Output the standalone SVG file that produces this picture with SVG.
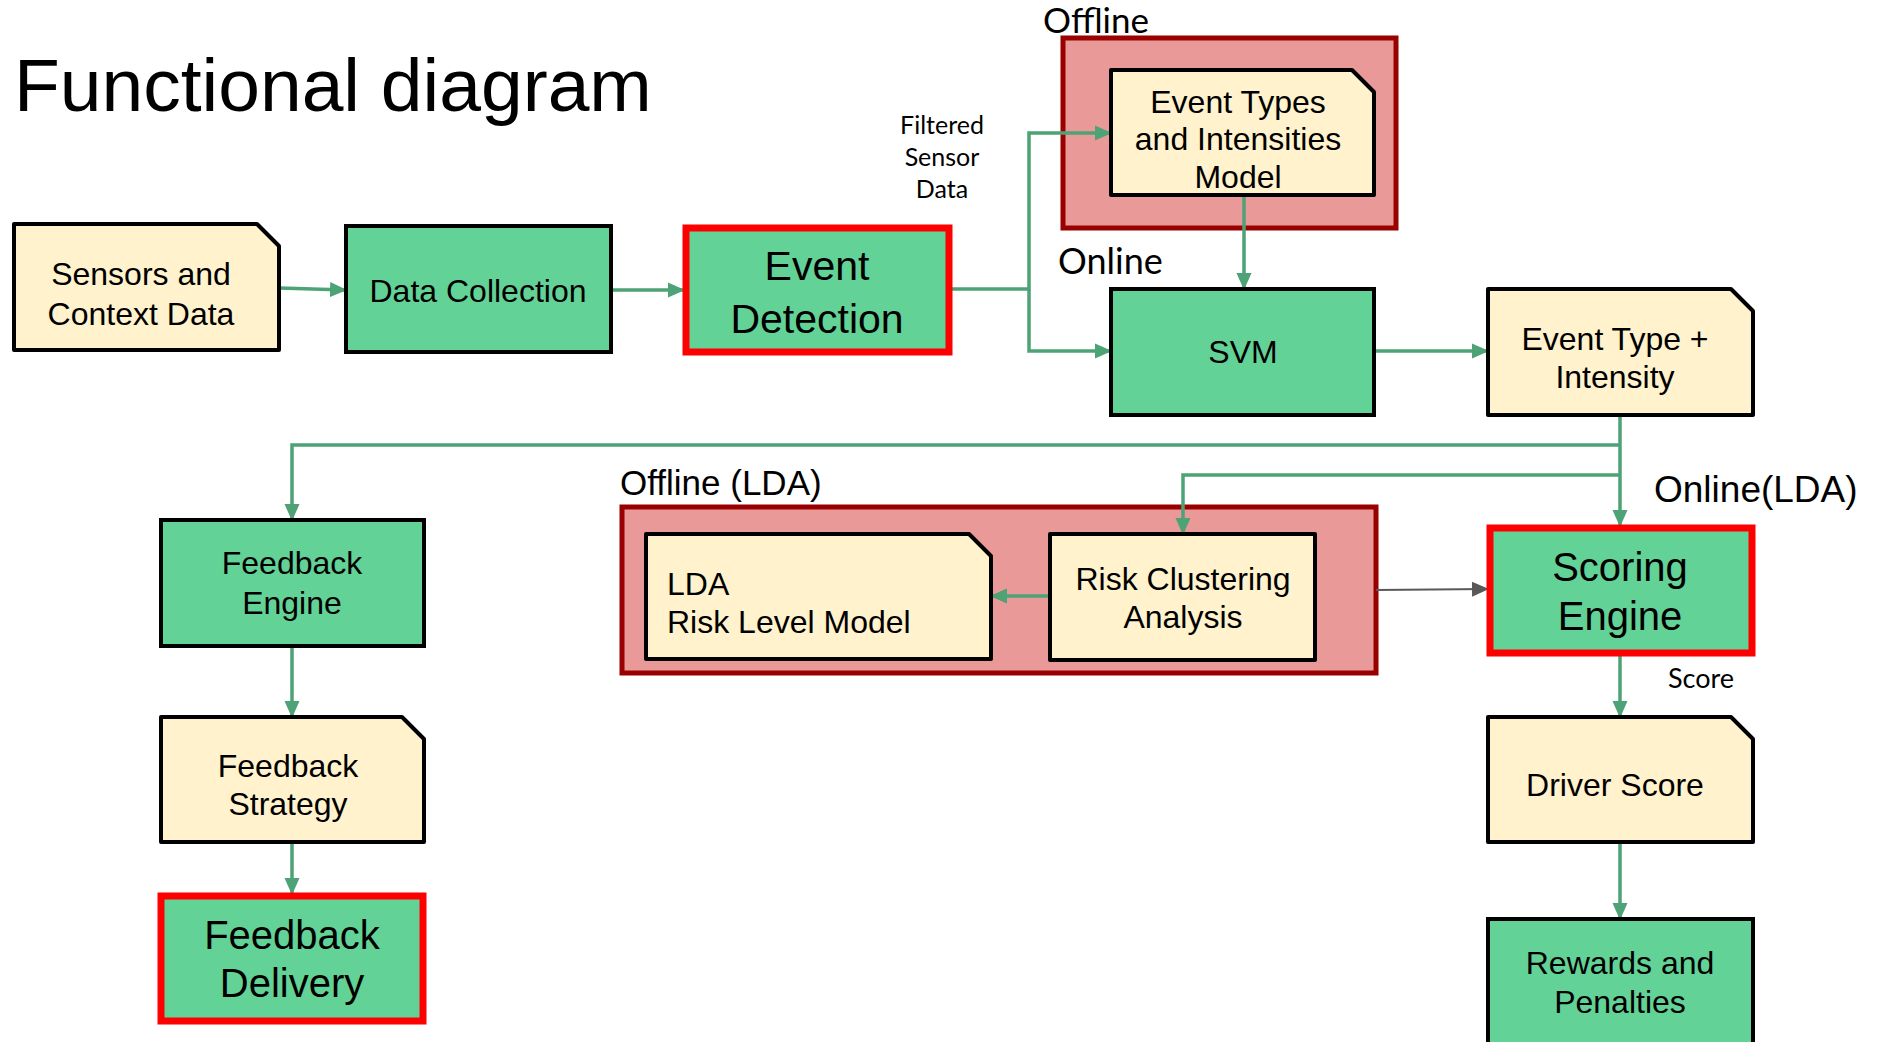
<svg xmlns="http://www.w3.org/2000/svg" width="1879" height="1042" viewBox="0 0 1879 1042">
  <style>
    .t { font-family: "Liberation Sans", Arial, sans-serif; fill: #000; text-anchor: middle; }
    .lbl { font-family: Lato, "Liberation Sans", sans-serif; fill: #000; }
    .proc { fill: #63D297; stroke: #000; stroke-width: 4; }
    .key { fill: #63D297; stroke: #FF0000; stroke-width: 7; }
    .doc { fill: #FFF2CC; stroke: #000; stroke-width: 4; stroke-linejoin: round; }
    .zone { fill: #EA9999; stroke: #990000; stroke-width: 5; }
    .flow { fill: none; stroke: #4DA276; stroke-width: 3.5; }
    .grey { fill: none; stroke: #595959; stroke-width: 2; }
  </style>
  <defs>
    <marker id="ah" markerUnits="userSpaceOnUse" markerWidth="17" markerHeight="17" viewBox="0 0 17 17" refX="16" refY="8.5" orient="auto">
      <path d="M0,1 L17,8.5 L0,16 Z" fill="#4DA276"/>
    </marker>
    <marker id="ahg" markerUnits="userSpaceOnUse" markerWidth="17" markerHeight="17" viewBox="0 0 17 17" refX="16" refY="8.5" orient="auto">
      <path d="M0,1 L17,8.5 L0,16 Z" fill="#595959"/>
    </marker>
  </defs>

  <rect width="1879" height="1042" fill="#fff"/>

  <text x="14" y="111" font-family="Liberation Sans, Arial, sans-serif" font-size="75">Functional diagram</text>

  <!-- containers for the offline stages -->
  <g id="offline-zone">
    <rect class="zone" x="1063" y="38" width="333" height="190"/>
    <text class="lbl" x="1043" y="33" font-size="35">Offline</text>
  </g>
  <g id="offline-lda-zone">
    <rect class="zone" x="622" y="507" width="754" height="166"/>
    <text x="620" y="495" font-family="Liberation Sans, Arial, sans-serif" font-size="35">Offline (LDA)</text>
  </g>

  <text class="lbl" x="1058" y="274" font-size="36">Online</text>
  <text x="1654" y="502" font-family="Liberation Sans, Arial, sans-serif" font-size="37">Online(LDA)</text>

  <!-- connectors -->
  <g id="connectors">
    <path class="flow" d="M279,288 L346,290" marker-end="url(#ah)"/>
    <path class="flow" d="M611,290 L684,290" marker-end="url(#ah)"/>
    <path class="flow" d="M950,289 L1029,289 L1029,133 L1111,133" marker-end="url(#ah)"/>
    <path class="flow" d="M1029,289 L1029,351 L1111,351" marker-end="url(#ah)"/>
    <path class="flow" d="M1244,195 L1244,289" marker-end="url(#ah)"/>
    <path class="flow" d="M1374,351 L1488,351" marker-end="url(#ah)"/>
    <path class="flow" d="M1620,415 L1620,526" marker-end="url(#ah)"/>
    <path class="flow" d="M1620,445 L292,445 L292,520" marker-end="url(#ah)"/>
    <path class="flow" d="M1620,475 L1183,475 L1183,534" marker-end="url(#ah)"/>
    <path class="flow" d="M1050,596 L991,596" marker-end="url(#ah)"/>
    <path class="grey" d="M1376,590 L1488,589" marker-end="url(#ahg)"/>
    <path class="flow" d="M292,646 L292,717" marker-end="url(#ah)"/>
    <path class="flow" d="M292,842 L292,894" marker-end="url(#ah)"/>
    <path class="flow" d="M1620,654 L1620,717" marker-end="url(#ah)"/>
    <path class="flow" d="M1620,842 L1620,919" marker-end="url(#ah)"/>
    <text class="lbl" x="942" y="134" font-size="25" text-anchor="middle">Filtered</text>
    <text class="lbl" x="942" y="166" font-size="25" text-anchor="middle">Sensor</text>
    <text class="lbl" x="942" y="198" font-size="25" text-anchor="middle">Data</text>
    <text class="lbl" x="1701" y="688" font-size="27" text-anchor="middle">Score</text>
  </g>

  <!-- nodes -->
  <g id="sensors">
    <path class="doc" d="M14,224 H257 L279,246 V350 H14 Z"/>
    <text class="t" x="141" y="285" font-size="32">Sensors and</text>
    <text class="t" x="141" y="325" font-size="32">Context Data</text>
  </g>
  <g id="data-collection">
    <rect class="proc" x="346" y="226" width="265" height="126"/>
    <text class="t" x="478" y="302" font-size="32">Data Collection</text>
  </g>
  <g id="event-detection">
    <rect class="key" x="686" y="228" width="263" height="124"/>
    <text class="t" x="817" y="280" font-size="41">Event</text>
    <text class="t" x="817" y="333" font-size="41">Detection</text>
  </g>
  <g id="event-model">
    <path class="doc" d="M1111,70 H1352 L1374,92 V195 H1111 Z"/>
    <text class="t" x="1238" y="113" font-size="32">Event Types</text>
    <text class="t" x="1238" y="150" font-size="32">and Intensities</text>
    <text class="t" x="1238" y="188" font-size="32">Model</text>
  </g>
  <g id="svm">
    <rect class="proc" x="1111" y="289" width="263" height="126"/>
    <text class="t" x="1243" y="363" font-size="32">SVM</text>
  </g>
  <g id="event-type-intensity">
    <path class="doc" d="M1488,289 H1731 L1753,311 V415 H1488 Z"/>
    <text class="t" x="1615" y="350" font-size="32">Event Type +</text>
    <text class="t" x="1615" y="388" font-size="32">Intensity</text>
  </g>
  <g id="scoring-engine">
    <rect class="key" x="1490" y="528" width="262" height="125"/>
    <text class="t" x="1620" y="581" font-size="40">Scoring</text>
    <text class="t" x="1620" y="630" font-size="40">Engine</text>
  </g>
  <g id="lda-model">
    <path class="doc" d="M646,534 H969 L991,556 V659 H646 Z"/>
    <text x="667" y="595" font-family="Liberation Sans, Arial, sans-serif" font-size="32">LDA</text>
    <text x="667" y="633" font-family="Liberation Sans, Arial, sans-serif" font-size="32">Risk Level Model</text>
  </g>
  <g id="risk-clustering">
    <rect class="doc" x="1050" y="534" width="265" height="126"/>
    <text class="t" x="1183" y="590" font-size="32">Risk Clustering</text>
    <text class="t" x="1183" y="628" font-size="32">Analysis</text>
  </g>
  <g id="feedback-engine">
    <rect class="proc" x="161" y="520" width="263" height="126"/>
    <text class="t" x="292" y="574" font-size="32">Feedback</text>
    <text class="t" x="292" y="614" font-size="32">Engine</text>
  </g>
  <g id="feedback-strategy">
    <path class="doc" d="M161,717 H402 L424,739 V842 H161 Z"/>
    <text class="t" x="288" y="777" font-size="32">Feedback</text>
    <text class="t" x="288" y="815" font-size="32">Strategy</text>
  </g>
  <g id="feedback-delivery">
    <rect class="key" x="161" y="896" width="262" height="125"/>
    <text class="t" x="292" y="949" font-size="40">Feedback</text>
    <text class="t" x="292" y="997" font-size="40">Delivery</text>
  </g>
  <g id="driver-score">
    <path class="doc" d="M1488,717 H1731 L1753,739 V842 H1488 Z"/>
    <text class="t" x="1615" y="796" font-size="32">Driver Score</text>
  </g>
  <g id="rewards">
    <rect class="proc" x="1488" y="919" width="265" height="130"/>
    <text class="t" x="1620" y="974" font-size="32">Rewards and</text>
    <text class="t" x="1620" y="1013" font-size="32">Penalties</text>
  </g>
</svg>
